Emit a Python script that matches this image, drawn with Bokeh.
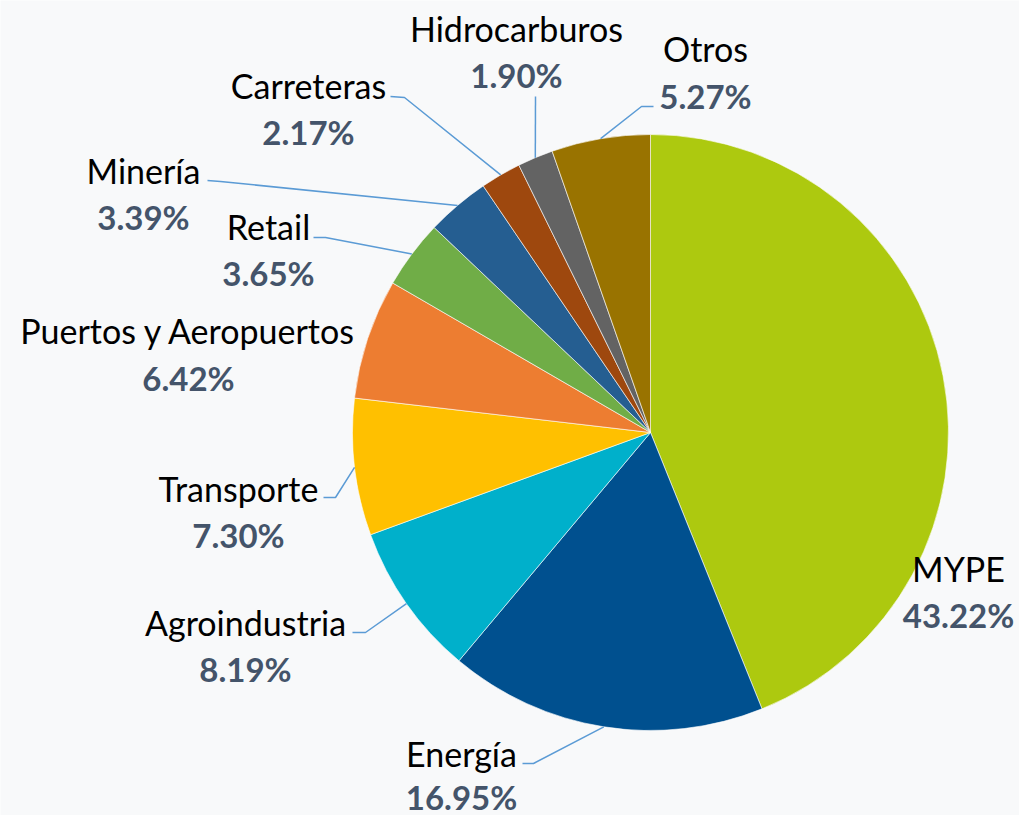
import math
from bokeh.plotting import figure
from bokeh.models import Range1d, ColumnDataSource
from bokeh.core.properties import value
from bokeh.embed import file_html
from bokeh.resources import INLINE

# ---- data ----
categories = ["MYPE", "Energía", "Agroindustria", "Transporte", "Puertos y Aeropuertos",
              "Retail", "Minería", "Carreteras", "Hidrocarburos", "Otros"]
shares = [43.22, 16.95, 8.19, 7.30, 6.42, 3.65, 3.39, 2.17, 1.90, 5.27]
colors = ["#ADC90F", "#00508F", "#00B0CB", "#FFC000", "#ED7D31",
          "#70AD47", "#255E91", "#9E480E", "#636363", "#997300"]
pct_labels = ["%.2f%%" % s for s in shares]

# ---- layout (screen px; y measured from top of picture) ----
W, H = 1019, 815
CX, CY, R = 650, 432, 298
label_pos = {  # name centre (x, y), percentage centre y
    "MYPE": (958, 568, 614), "Energía": (461, 753, 796), "Agroindustria": (245, 622, 668),
    "Transporte": (238, 488, 534), "Puertos y Aeropuertos": (188, 330, 377),
    "Retail": (268, 226, 272), "Minería": (143, 170, 216), "Carreteras": (308, 85, 131),
    "Hidrocarburos": (516, 28, 74), "Otros": (705, 48, 95),
}
leader = {
    "Energía": [(522, 763), (533, 763)],
    "Agroindustria": [(352, 632), (365, 632)],
    "Transporte": [(323, 497), (335, 497)],
    "Retail": [(313, 237), (325, 237)],
    "Minería": [(207, 180), (220, 181)],
    "Carreteras": [(390, 96), (404, 97)],
    "Hidrocarburos": [(535, 96)],
    "Otros": [(653, 106), (641, 106)],
}

def Y(sy):
    return H - sy

p = figure(width=W, height=H, output_backend="svg", toolbar_location=None,
           x_range=Range1d(0, W), y_range=Range1d(0, H),
           min_border=0, outline_line_color=None, background_fill_color="#f8f9fa",
           border_fill_color="#f8f9fa")
p.axis.visible = False
p.grid.visible = False

total = sum(shares)
starts, ends, mids = [], [], []
acc = 0.0
for s in shares:
    a0 = acc / total
    acc += s
    a1 = acc / total
    starts.append(math.pi / 2 - 2 * math.pi * a1)
    ends.append(math.pi / 2 - 2 * math.pi * a0)
    mids.append(math.pi / 2 - 2 * math.pi * (a0 + a1) / 2)

src = ColumnDataSource(dict(x=[CX] * len(shares), y=[Y(CY)] * len(shares),
                            start=starts, end=ends, color=colors))
p.wedge(x="x", y="y", radius=R, start_angle="start", end_angle="end",
        direction="anticlock", fill_color="color", line_color="white",
        line_width=0.6, source=src)

for cat, mid in zip(categories, mids):
    if cat not in leader:
        continue
    pts = leader[cat]
    ex = CX + R * math.cos(mid)
    ey = CY - R * math.sin(mid)
    xs = [q[0] for q in pts] + [ex]
    ys = [Y(q[1]) for q in pts] + [Y(ey)]
    p.line(xs, ys, line_color="#5B9BD5", line_width=1.5)

nx = [label_pos[c][0] for c in categories]
ny = [Y(label_pos[c][1]) for c in categories]
py = [Y(label_pos[c][2]) for c in categories]
p.text(x=nx, y=ny, text=categories, text_align="center", text_baseline="middle",
       text_font=value("Lato"), text_font_size="34px", text_color="#000000")
p.text(x=nx, y=py, text=pct_labels, text_align="center", text_baseline="middle",
       text_font=value("Lato"), text_font_size="33px", text_font_style="bold",
       text_color="#44546A")

open("out.html", "w").write(file_html(p, INLINE))
